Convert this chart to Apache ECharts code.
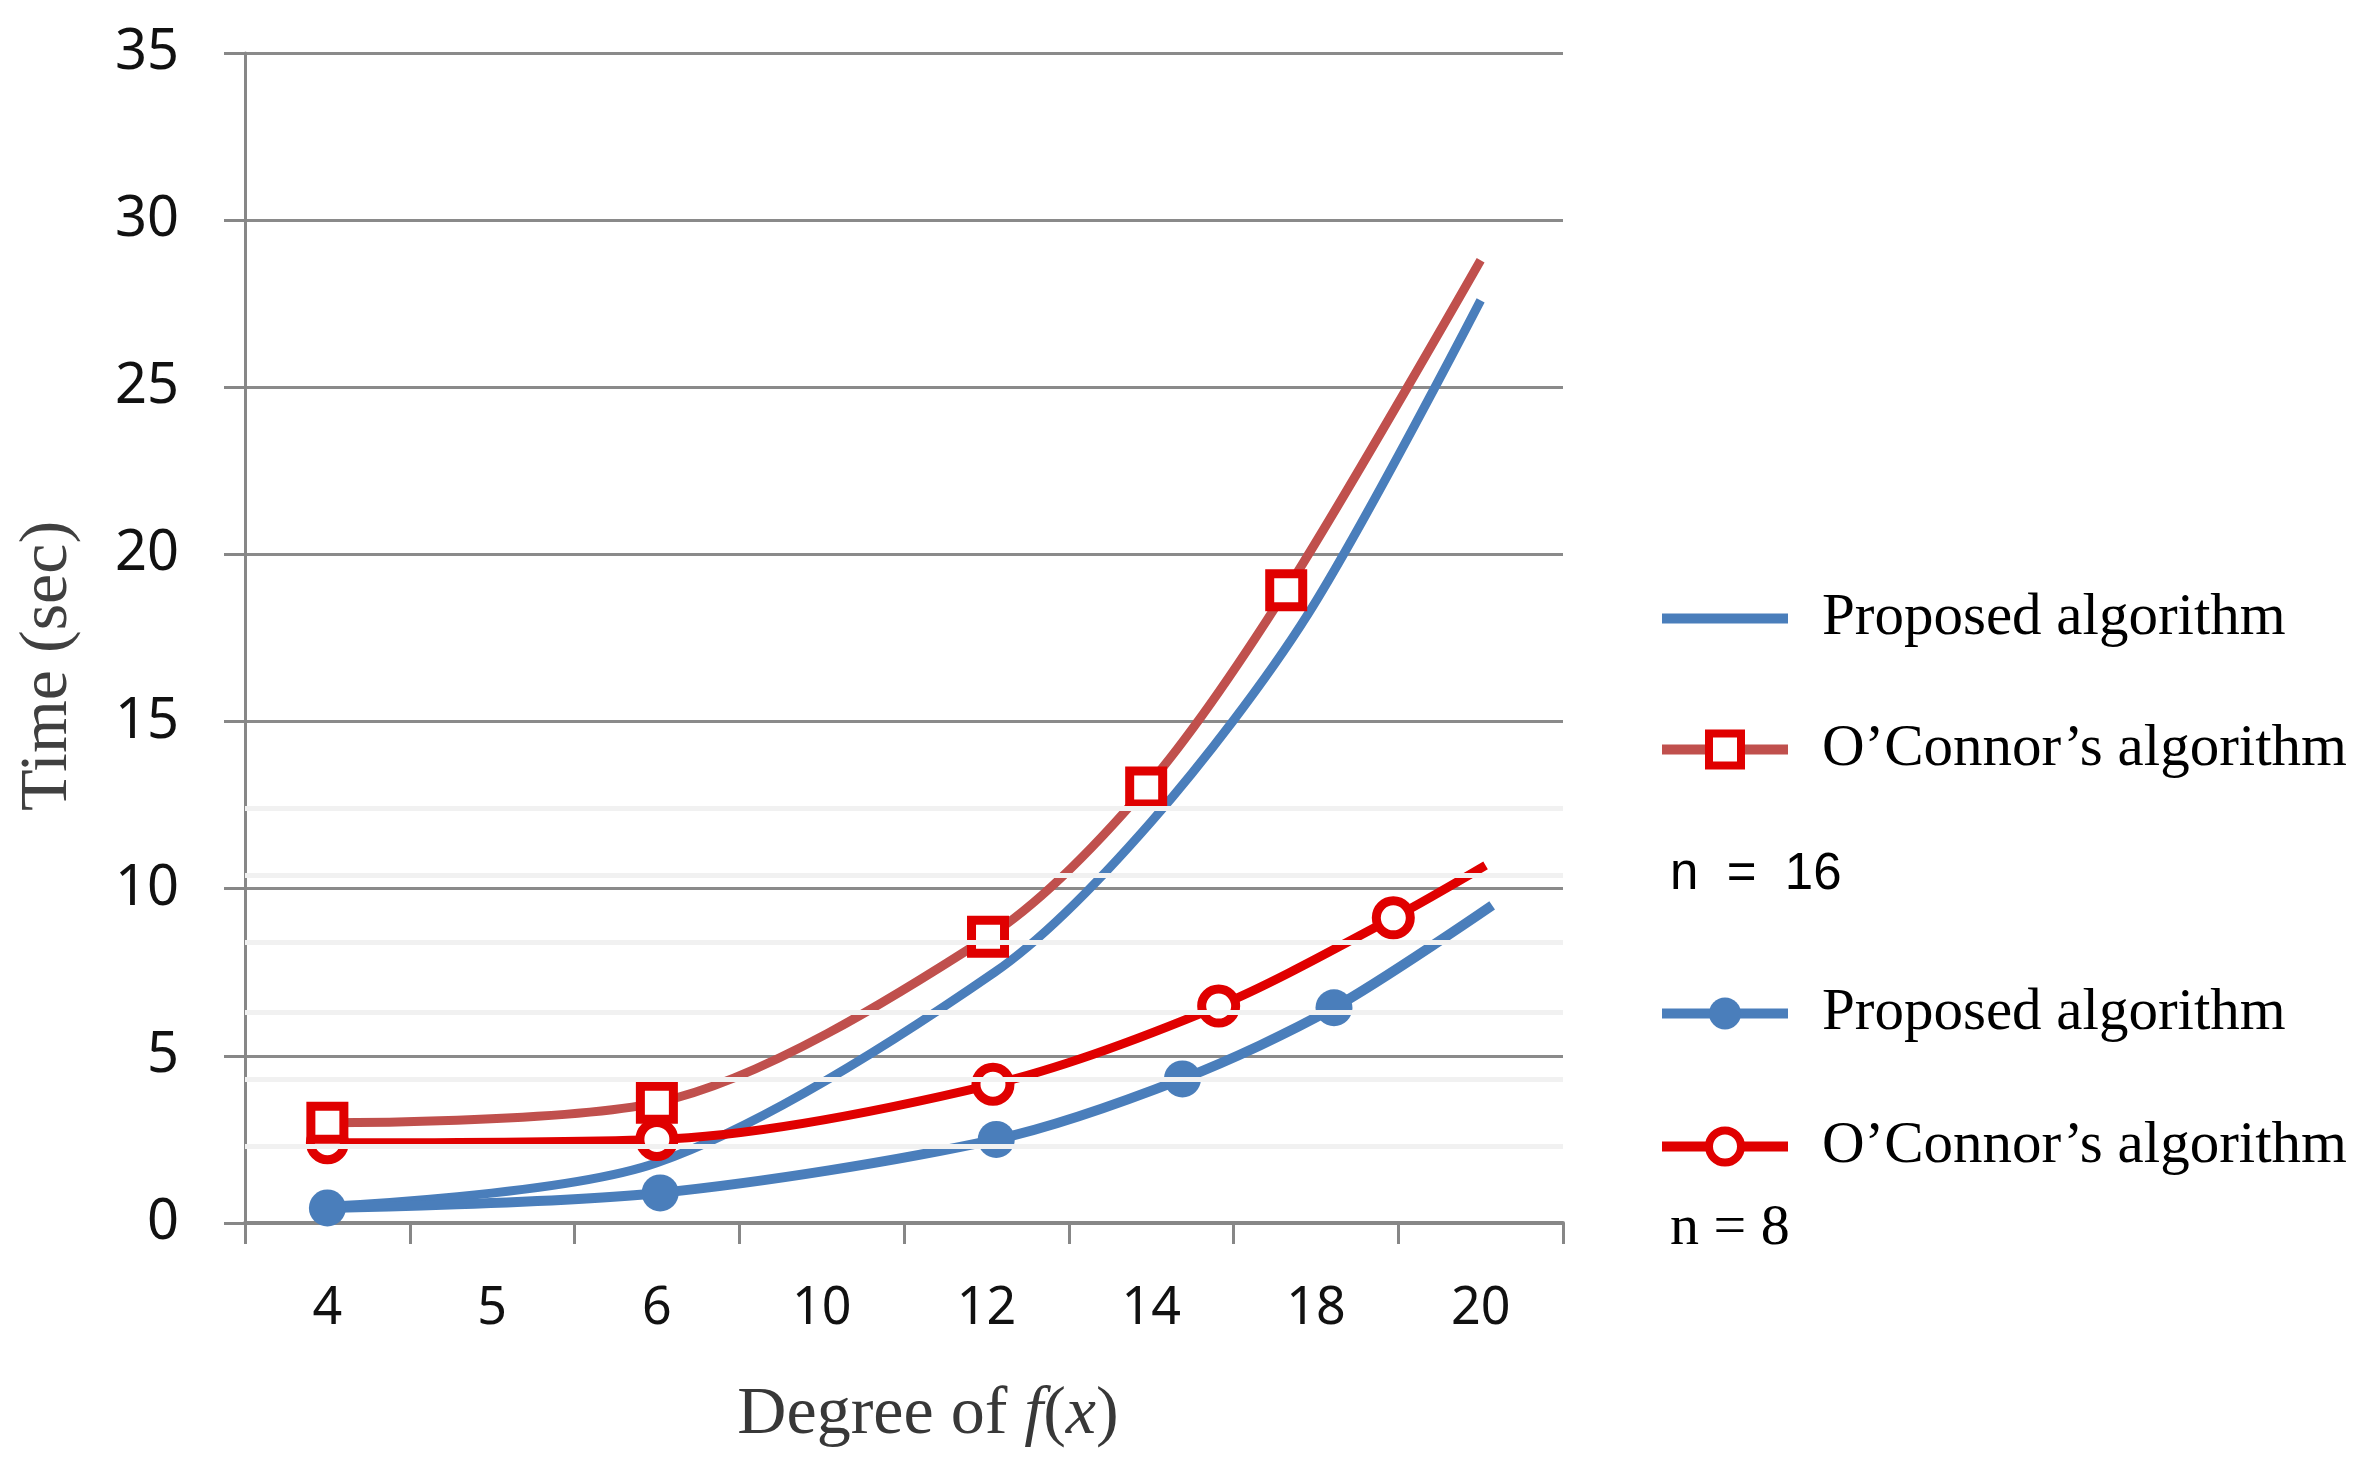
<!DOCTYPE html>
<html>
<head>
<meta charset="utf-8">
<script src="https://cdn.jsdelivr.net/npm/echarts@6/dist/echarts.min.js"></script>
<style>
html,body{margin:0;padding:0;background:#fff;}
#chart{width:2374px;height:1466px;}
</style>
</head>
<body>
<div id="chart"></div>
<script>
// Category tick labels (Degree of f(x))
const degreeLabels = ['4', '5', '6', '10', '12', '14', '18', '20'];
// Y axis ticks
const yMin = 0, yMax = 35, yStep = 5;

// Positions along the category axis (0 = "4", 1 = "5", ... 7 = "20")
const proposed16Pos = [0, 2, 4.05, 5.0, 5.95, 7.0];
const proposed16Val = [0.5, 1.8, 7.5, 12.0, 18.2, 27.6];

const oconnor16Pos = [0, 2, 4.01, 4.97, 5.82, 7.0];
const oconnor16Val = [3.0, 3.6, 8.56, 13.03, 18.93, 28.8];

const proposed8Pos = [0, 2.02, 4.06, 5.19, 6.11, 7.07];
const proposed8Val = [0.45, 0.9, 2.5, 4.31, 6.44, 9.5];

const oconnor8Pos = [0, 2, 4.04, 5.41, 6.47, 7.03];
const oconnor8Val = [2.4, 2.5, 4.15, 6.49, 9.13, 10.7];

// Faint ghost lines visible in the picture
const faintLines = [2.3, 4.3, 6.3, 8.4, 10.4, 12.4];

const seriesNames = {
  p16: 'Proposed algorithm|16',
  o16: 'O\u2019Connor\u2019s algorithm|16',
  p8: 'Proposed algorithm|8',
  o8: 'O\u2019Connor\u2019s algorithm|8'
};

function pairs(xs, ys, lastNoSymbol) {
  return xs.map((x, i) => {
    const item = { value: [x, ys[i]] };
    if (lastNoSymbol && i === xs.length - 1) item.symbol = 'none';
    return item;
  });
}

const BLUE = '#4A7EBB';
const BROWN = '#C0504D';
const RED = '#E00000';
const serif = '"Liberation Serif", "Times New Roman", serif';
const sans = '"Noto Sans", "Open Sans", sans-serif';

const chart = echarts.init(document.getElementById('chart'));

const legendText = { fontFamily: serif, fontSize: 59, color: '#000', padding: [0, 0, 0, 29] };
const fmt = name => name.split('|')[0];

chart.setOption({
  backgroundColor: '#fff',
  animation: false,
  grid: { left: 245, right: 811, top: 53, bottom: 243, outerBoundsMode: 'none', containLabel: false },
  xAxis: [
    {
      type: 'category',
      data: degreeLabels,
      boundaryGap: true,
      name: '{a|Degree of }{i|f}{a|(}{i|x}{a|)}',
      nameLocation: 'middle',
      nameGap: 158,
      nameTextStyle: {
        padding: [0, 0, 0, 48],
        rich: {
          a: { fontFamily: serif, fontSize: 68, color: '#383838' },
          i: { fontFamily: serif, fontSize: 68, fontStyle: 'italic', color: '#383838' }
        }
      },
      axisLine: { show: true, lineStyle: { color: '#878787', width: 4 } },
      axisTick: { show: true, alignWithLabel: false, length: 21, lineStyle: { color: '#878787', width: 3 } },
      axisLabel: { margin: 60, fontFamily: sans, fontSize: 52, color: '#111' },
      splitLine: { show: false }
    },
    {
      type: 'value',
      min: -0.5,
      max: 7.5,
      show: false,
      splitLine: { show: false }
    }
  ],
  yAxis: {
    type: 'value',
    min: yMin,
    max: yMax,
    interval: yStep,
    name: 'Time (sec)',
    nameLocation: 'middle',
    nameGap: 163,
    nameRotate: 90,
    nameTextStyle: { fontFamily: serif, fontSize: 68, color: '#404040', padding: [0, 56, 0, 0] },
    axisLine: { show: true, onZero: false, lineStyle: { color: '#878787', width: 3 } },
    axisTick: { show: true, length: 21, lineStyle: { color: '#878787', width: 3 } },
    axisLabel: { margin: 66, fontFamily: sans, fontSize: 56, color: '#111' },
    splitLine: { show: true, lineStyle: { color: '#8a8a8a', width: 3 } }
  },
  legend: [
    {
      orient: 'vertical',
      left: 1652,
      top: 584,
      itemWidth: 126,
      itemHeight: 40,
      itemGap: 72,
      formatter: fmt,
      textStyle: legendText,
      data: [
        { name: seriesNames.p16, icon: 'path://M0,0H126V10H0Z', itemStyle: { color: BLUE, borderWidth: 0 } },
        { name: seriesNames.o16, itemStyle: { color: '#fff', borderColor: RED, borderWidth: 8 }, lineStyle: { color: BROWN, width: 10 } }
      ]
    },
    {
      orient: 'vertical',
      left: 1652,
      top: 979,
      itemWidth: 126,
      itemHeight: 40,
      itemGap: 74,
      formatter: fmt,
      textStyle: legendText,
      data: [
        { name: seriesNames.p8, itemStyle: { color: BLUE, borderWidth: 0 }, lineStyle: { color: BLUE, width: 10 } },
        { name: seriesNames.o8, itemStyle: { color: '#fff', borderColor: RED, borderWidth: 8 }, lineStyle: { color: RED, width: 10 } }
      ]
    }
  ],
  graphic: [
    { type: 'text', x: 1670, y: 875, style: { text: 'n  =  16', font: '51px "Liberation Sans", Arial, sans-serif', fill: '#000', verticalAlign: 'middle' } },
    { type: 'text', x: 1670, y: 1229, style: { text: 'n = 8', font: '58px "Liberation Serif", serif', fill: '#000', verticalAlign: 'middle' } }
  ],
  series: [
    {
      name: seriesNames.p16,
      type: 'line',
      xAxisIndex: 1,
      data: pairs(proposed16Pos, proposed16Val, false),
      smooth: 0.3,
      symbol: 'none',
      lineStyle: { color: BLUE, width: 9 },
      itemStyle: { color: BLUE },
      markLine: {
        silent: true,
        symbol: 'none',
        label: { show: false },
        lineStyle: { color: '#f1f1f1', width: 5, type: 'solid' },
        data: faintLines.map(v => ({ yAxis: v }))
      },
      z: 2
    },
    {
      name: seriesNames.o16,
      type: 'line',
      xAxisIndex: 1,
      data: pairs(oconnor16Pos, oconnor16Val, true),
      smooth: 0.3,
      symbol: 'rect',
      symbolSize: 33,
      lineStyle: { color: BROWN, width: 9 },
      itemStyle: { color: '#fff', borderColor: RED, borderWidth: 9 },
      z: 4
    },
    {
      name: seriesNames.p8,
      type: 'line',
      xAxisIndex: 1,
      data: pairs(proposed8Pos, proposed8Val, true),
      smooth: 0.3,
      symbol: 'circle',
      symbolSize: 37,
      lineStyle: { color: BLUE, width: 10 },
      itemStyle: { color: BLUE },
      z: 3
    },
    {
      name: seriesNames.o8,
      type: 'line',
      xAxisIndex: 1,
      data: pairs(oconnor8Pos, oconnor8Val, true),
      smooth: 0.3,
      symbol: 'circle',
      symbolSize: 34,
      lineStyle: { color: RED, width: 9 },
      itemStyle: { color: '#fff', borderColor: RED, borderWidth: 9 },
      z: 3
    }
  ]
});
</script>
</body>
</html>
